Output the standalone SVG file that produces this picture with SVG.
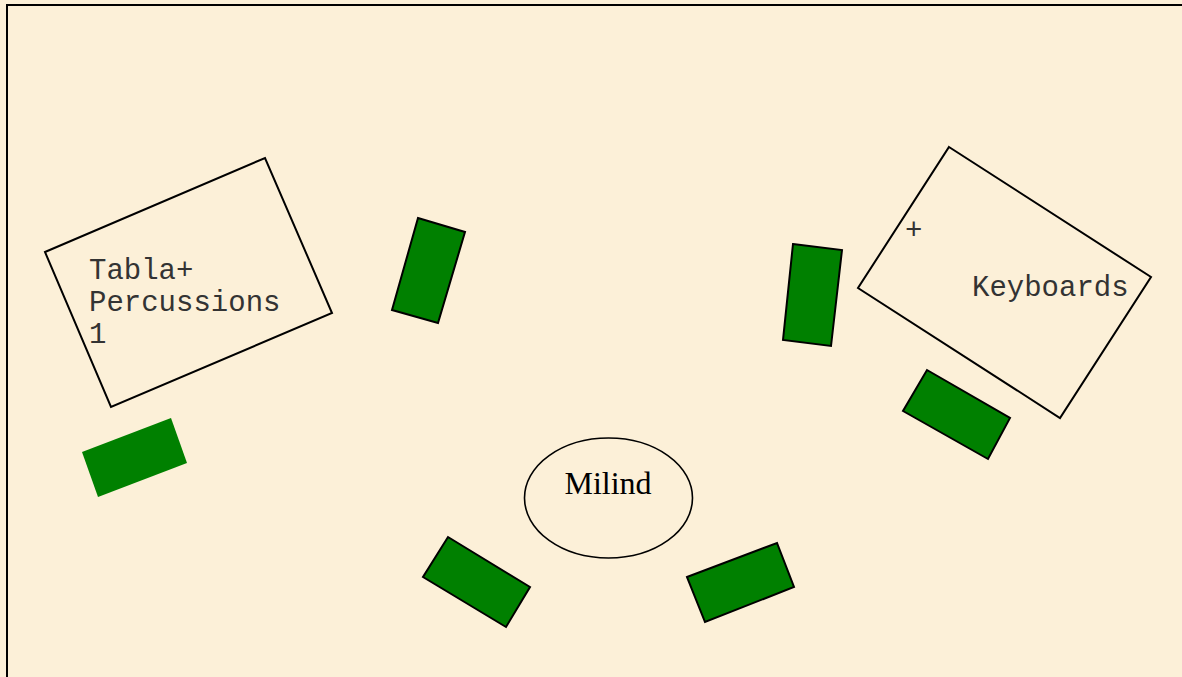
<svg xmlns="http://www.w3.org/2000/svg" width="1182" height="677" viewBox="0 0 1182 677">
<style>
.box{fill:none;stroke:#000;stroke-width:2}
.seat{fill:#008000;stroke:#000;stroke-width:2}
.seatn{fill:#008000;stroke:none}
.mono{font-family:"Liberation Mono","Courier New",monospace;font-size:29px;fill:#333}
.serif{font-family:"Liberation Serif","Times New Roman",serif;font-size:32px;fill:#000}
</style>
<rect x="0" y="0" width="1182" height="677" fill="#FCF0D8"/>
<rect x="7" y="5" width="1200" height="700" fill="none" stroke="#000" stroke-width="2"/>
<g id="tabla">
<polygon class="box" points="45,252 265,158 332,313 111,407"/>
<text class="mono" x="89" y="279">Tabla+</text>
<text class="mono" x="89" y="311">Percussions</text>
<text class="mono" x="89" y="343">1</text>
</g>
<g id="keyboards">
<polygon class="box" points="949,147 1151,277 1060,418 858,288"/>
<text class="mono" x="905" y="239">+</text>
<text class="mono" x="972" y="296">Keyboards</text>
</g>
<g id="milind">
<ellipse cx="608.5" cy="498" rx="84" ry="60" fill="none" stroke="#000" stroke-width="1.6"/>
<text class="serif" x="608" y="494" text-anchor="middle">Milind</text>
</g>
<g id="seat1"><polygon class="seat" points="418,218 465,232 438,323 392,310"/></g>
<g id="seat2"><polygon class="seat" points="793,244 842,250 831,346 783,340"/></g>
<g id="seat3"><polygon class="seat" points="927,370 1010,418 988,459 903,411"/></g>
<g id="seat4"><polygon class="seat" points="448,537 530,587 506,627 423,577"/></g>
<g id="seat5"><polygon class="seat" points="687,577 777,543 794,587 705,622"/></g>
<g id="seat6"><polygon class="seatn" points="82,452 171,418 187,463 98,497"/></g>
<g id="connectors"></g>
</svg>
